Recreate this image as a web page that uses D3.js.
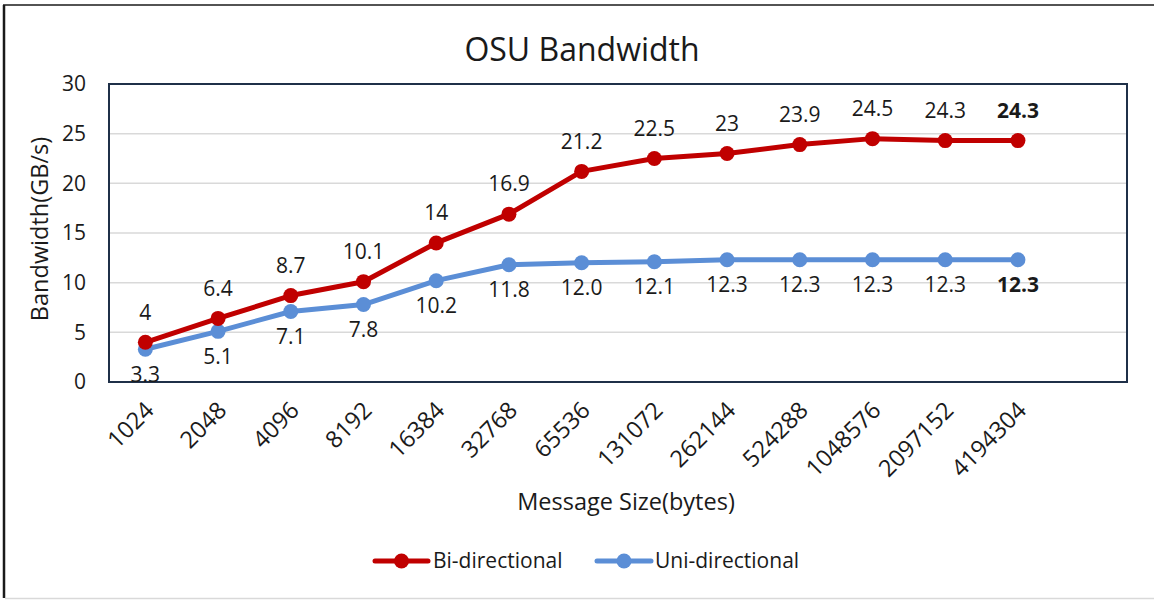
<!DOCTYPE html>
<html>
<head>
<meta charset="utf-8">
<script src="https://cdn.jsdelivr.net/npm/d3@7"></script>
<style>
  html, body { margin: 0; padding: 0; background: #fff; }
  svg { display: block; font-family: "Open Sans", "Noto Sans", sans-serif; }
</style>
</head>
<body>
<svg id="chart" width="1154" height="600"></svg>
<script>
const categories = ["1024","2048","4096","8192","16384","32768","65536","131072","262144","524288","1048576","2097152","4194304"];
const biValues  = [4, 6.4, 8.7, 10.1, 14, 16.9, 21.2, 22.5, 23, 23.9, 24.5, 24.3, 24.3];
const uniValues = [3.3, 5.1, 7.1, 7.8, 10.2, 11.8, 12.0, 12.1, 12.3, 12.3, 12.3, 12.3, 12.3];
const biLabels  = ["4","6.4","8.7","10.1","14","16.9","21.2","22.5","23","23.9","24.5","24.3","24.3"];
const uniLabels = ["3.3","5.1","7.1","7.8","10.2","11.8","12.0","12.1","12.3","12.3","12.3","12.3","12.3"];
const yTicks = [0, 5, 10, 15, 20, 25, 30];
const seriesNames = ["Bi-directional", "Uni-directional"];
const seriesColors = ["#C00000", "#5B8ED6"];

const svg = d3.select("#chart");
const W = 1154, H = 600;
const plot = { left: 109, top: 84, right: 1127, bottom: 382 };

// outer frame
svg.append("line").attr("x1", 4).attr("x2", 4).attr("y1", 5).attr("y2", 598)
  .attr("stroke", "#1a1a1a").attr("stroke-width", 2.5);
svg.append("line").attr("x1", 3).attr("x2", W).attr("y1", 5).attr("y2", 5)
  .attr("stroke", "#1a1a1a").attr("stroke-width", 1.5);
svg.append("line").attr("x1", 5).attr("x2", W).attr("y1", 598.5).attr("y2", 598.5)
  .attr("stroke", "#d9d9d9").attr("stroke-width", 1.5);

// scales: 14 slots, last one empty (as in reference)
const slots = categories.concat([""]);
const x = d3.scaleBand().domain(slots.map((d, i) => i)).range([plot.left, plot.right]);
const xc = i => x(i) + x.bandwidth() / 2;
const y = d3.scaleLinear().domain([0, 30]).range([plot.bottom, plot.top]);

// gridlines
svg.append("g").selectAll("line").data(yTicks.filter(t => t > 0 && t < 30)).join("line")
  .attr("x1", plot.left).attr("x2", plot.right)
  .attr("y1", d => y(d)).attr("y2", d => y(d))
  .attr("stroke", "#d9d9d9").attr("stroke-width", 1.5);

// plot border
svg.append("rect").attr("x", plot.left).attr("y", plot.top)
  .attr("width", plot.right - plot.left).attr("height", plot.bottom - plot.top)
  .attr("fill", "none").attr("stroke", "#1F3048").attr("stroke-width", 2);

// y axis
const yAxis = d3.axisLeft(y).tickValues(yTicks).tickSize(0).tickPadding(0);
const gy = svg.append("g").attr("transform", `translate(${plot.left - 23},0)`).call(yAxis);
gy.select(".domain").remove();
gy.selectAll("text").attr("font-size", 21).attr("fill", "#1a1a1a")
  .attr("font-family", "Open Sans, sans-serif");

// x axis
const xAxis = d3.axisBottom(x).tickValues(categories.map((d, i) => i))
  .tickFormat(i => categories[i]).tickSize(0).tickPadding(0);
const gx = svg.append("g").attr("transform", `translate(0,${plot.bottom})`).call(xAxis);
gx.select(".domain").remove();
gx.selectAll("text")
  .attr("font-size", 23.5).attr("fill", "#1a1a1a").attr("font-family", "Open Sans, sans-serif")
  .attr("text-anchor", "end")
  .attr("transform", "translate(4,24) rotate(-45)")
  .attr("dy", "0.35em").attr("y", 0).attr("x", 0);

// title and axis titles
svg.append("text").attr("x", 582).attr("y", 61).attr("text-anchor", "middle")
  .attr("font-size", 32).attr("fill", "#1a1a1a").text("OSU Bandwidth");
svg.append("text").attr("transform", "translate(48,229) rotate(-90)")
  .attr("text-anchor", "middle").attr("font-size", 23.5).attr("fill", "#1a1a1a")
  .text("Bandwidth(GB/s)");
svg.append("text").attr("x", 626).attr("y", 510).attr("text-anchor", "middle")
  .attr("font-size", 23.5).attr("fill", "#1a1a1a").text("Message Size(bytes)");

// series
const allSeries = [
  { name: seriesNames[0], values: biValues, labels: biLabels, color: seriesColors[0], dy: -30 },
  { name: seriesNames[1], values: uniValues, labels: uniLabels, color: seriesColors[1], dy: 25 }
];
const line = d3.line().x((d, i) => xc(i)).y(d => y(d));

// draw blue first then red on top
[allSeries[1], allSeries[0]].forEach(s => {
  svg.append("path").datum(s.values).attr("d", line)
    .attr("fill", "none").attr("stroke", s.color).attr("stroke-width", 5)
    .attr("stroke-linejoin", "round").attr("stroke-linecap", "round");
  svg.append("g").selectAll("circle").data(s.values).join("circle")
    .attr("cx", (d, i) => xc(i)).attr("cy", d => y(d)).attr("r", 7.5)
    .attr("fill", s.color);
});
allSeries.forEach(s => {
  svg.append("g").selectAll("text").data(s.values).join("text")
    .attr("x", (d, i) => xc(i)).attr("y", d => y(d) + s.dy)
    .attr("dy", "0.35em").attr("text-anchor", "middle")
    .attr("font-size", 21).attr("fill", "#1a1a1a")
    .attr("font-weight", (d, i) => i === s.values.length - 1 ? "bold" : "normal")
    .text((d, i) => s.labels[i]);
});

// legend
const legendItems = [
  { name: seriesNames[0], color: seriesColors[0], x1: 375, x2: 428, tx: 433 },
  { name: seriesNames[1], color: seriesColors[1], x1: 597, x2: 651, tx: 655 }
];
const ly = 561;
legendItems.forEach(li => {
  svg.append("line").attr("x1", li.x1).attr("x2", li.x2).attr("y1", ly).attr("y2", ly)
    .attr("stroke", li.color).attr("stroke-width", 5).attr("stroke-linecap", "round");
  svg.append("circle").attr("cx", (li.x1 + li.x2) / 2).attr("cy", ly).attr("r", 7.5).attr("fill", li.color);
  svg.append("text").attr("x", li.tx).attr("y", ly).attr("dy", "0.35em")
    .attr("font-size", 21).attr("fill", "#1a1a1a").text(li.name);
});
</script>
</body>
</html>
